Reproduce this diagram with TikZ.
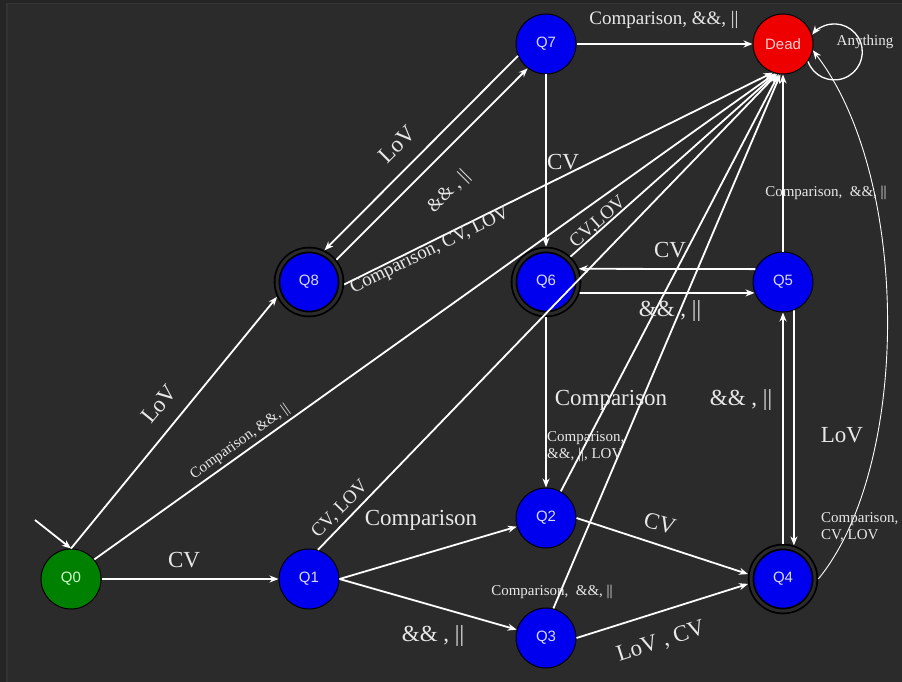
\documentclass[tikz,border=0pt]{standalone}
\usepackage{fontspec}
\setmainfont{Liberation Serif}
\newfontfamily\statefont{Liberation Sans}
\usepackage{tikz}
\usetikzlibrary{arrows.meta}

\definecolor{canvas}{HTML}{2B2B2B}
\definecolor{rim}{HTML}{252525}
\definecolor{rimline}{HTML}{333333}
\definecolor{stateblue}{HTML}{0000EE}
\definecolor{statered}{HTML}{EE0000}
\definecolor{stategreen}{HTML}{008000}
\definecolor{ink}{HTML}{E8E8E8}

\begin{document}
\begin{tikzpicture}[x=1pt,y=-1pt,
  qstate/.style={circle,draw=black,line width=1pt,minimum size=60pt,inner sep=0pt,
                 fill=stateblue,text=white!85!blue,font=\statefont\fontsize{15}{17}\selectfont},
  qaccept/.style={qstate,minimum size=64pt,double=canvas,double distance=3pt,
                  line width=1.8pt,outer sep=3.3pt},
  qstart/.style={qstate,fill=stategreen,text=white!80!green},
  qdead/.style={qstate,fill=statered,text=white!80!red},
  arrow/.style={-{Stealth[length=9pt,width=7pt]},draw=white,line width=1.8pt},
  thinarrow/.style={arrow,line width=0.9pt},
  biglbl/.style={text=ink,inner sep=1pt,font=\fontsize{23}{26}\selectfont},
  midlbl/.style={biglbl,font=\fontsize{19}{22}\selectfont},
  smalllbl/.style={biglbl,font=\fontsize{15}{17}\selectfont,align=left}
]
\useasboundingbox (0,0) rectangle (902,682);
\fill[rim] (0,0) rectangle (902,682);
\fill[canvas] (6,3) rectangle (902,682);
\draw[rimline,line width=1.5pt] (6.75,682) |- (902,3.75);

% states
\node[qstart]  (Q0)   at (71,579)  {Q0};
\node[qstate]  (Q1)   at (309,579) {Q1};
\node[qstate]  (Q2)   at (546,518) {Q2};
\node[qstate]  (Q3)   at (546,638) {Q3};
\node[qaccept] (Q4)   at (783,579) {Q4};
\node[qstate]  (Q5)   at (783,282) {Q5};
\node[qaccept] (Q6)   at (546,282) {Q6};
\node[qstate]  (Q7)   at (546,44)  {Q7};
\node[qaccept] (Q8)   at (309,282) {Q8};
\node[qdead]   (Dead) at (783,44)  {Dead};
\coordinate (in0) at (35,520);

% transitions
\draw[arrow] (in0) -- (Q0.north);
\draw[arrow] (Q0) -- (Q1);
\draw[arrow] (Q0.north) -- (Q8.205);
\draw[arrow] (Q0.40) -- (Dead.255);
\draw[arrow] (Q1.73) -- (Dead.259);
\draw[arrow] (Q1.east) -- (Q2);
\draw[arrow] (Q1.east) -- (Q3);
\draw[arrow] (Q2.east) -- (Q4.172);
\draw[arrow] (Q3.east) -- (Q4.188);
\draw[arrow] (Q2.61) -- (Dead.262);
\draw[arrow] (Q3.76) -- (Dead.265);
\draw[arrow] (Q4) -- (Q5);
\draw[arrow] (Q5.291) -- (Q4.72);
\draw[thinarrow] (Q4.east) .. controls (911,466) and (911,178) .. (Dead.-12);
\draw[arrow] (Q5) -- (Dead);
\draw[arrow] (Q5.155) -- (Q6.22);
\draw[arrow] (Q6.-18) -- (Q5.201);
\draw[arrow] (Q6) -- (Q2);
\draw[arrow] (Q6.46) -- (Dead.257);
\draw[arrow] (Q7) -- (Q6);
\draw[arrow] (Q7) -- (Dead);
\draw[arrow] (Q7.203) -- (Q8.64);
\draw[arrow] (Q8.39) -- (Q7.233);
\draw[arrow] (Q8.-4) -- (Dead.250);
\draw[arrow,line width=1.3pt] (Dead.-35) arc[start angle=200,end angle=502,radius=28pt];

% labels
\node[biglbl]              (lQ0Q1) at (184,560) {CV};
\node[biglbl,rotate=50.7]  (lQ0Q8) at (159,404) {LoV};
\node[smalllbl,rotate=35.5](lQ0D)  at (240,442) {Comparison, \&\&, ||};
\node[midlbl,rotate=46]    (lQ1D)  at (340,509) {CV, LOV};
\node[biglbl]              (lQ1Q2) at (421,520) {Comparison};
\node[biglbl]              (lQ1Q3) at (433,636) {\&\& , ||};
\node[biglbl,rotate=-15]   (lQ2Q4) at (660,523) {CV};
\node[biglbl,rotate=17.8]  (lQ3Q4) at (661,642) {LoV , CV};
\node[smalllbl,anchor=west](lQ2D)  at (546,447) {Comparison,\\\&\&, ||, LOV};
\node[smalllbl]            (lQ3D)  at (552,592) {Comparison,\ \ \&\&, ||};
\node[biglbl]              (lQ4Q5) at (741,400) {\&\& , ||};
\node[biglbl]              (lQ5Q4) at (842,435) {LoV};
\node[smalllbl,anchor=west](lQ4D)  at (820,527) {Comparison,\\CV, LOV};
\node[smalllbl]            (lQ5D)  at (826,193) {Comparison,\ \ \&\&, ||};
\node[biglbl]              (lQ5Q6) at (670,250) {CV};
\node[biglbl]              (lQ6Q5) at (670,311) {\&\& , ||};
\node[biglbl]              (lQ6Q2) at (611,400) {Comparison};
\node[midlbl,rotate=41.7]  (lQ6D)  at (598,222) {CV,LOV};
\node[biglbl]              (lQ7Q6) at (563,162) {CV};
\node[midlbl]              (lQ7D)  at (664,20)  {Comparison, \&\&, ||};
\node[biglbl,rotate=45]    (lQ7Q8) at (397,144) {LoV};
\node[midlbl,rotate=45]    (lQ8Q7) at (449,192) {\&\& , ||};
\node[midlbl,rotate=26.3]  (lQ8D)  at (430,251) {Comparison, CV, LOV};
\node[smalllbl]            (lDD)   at (865,42)  {Anything};
\end{tikzpicture}
\end{document}
